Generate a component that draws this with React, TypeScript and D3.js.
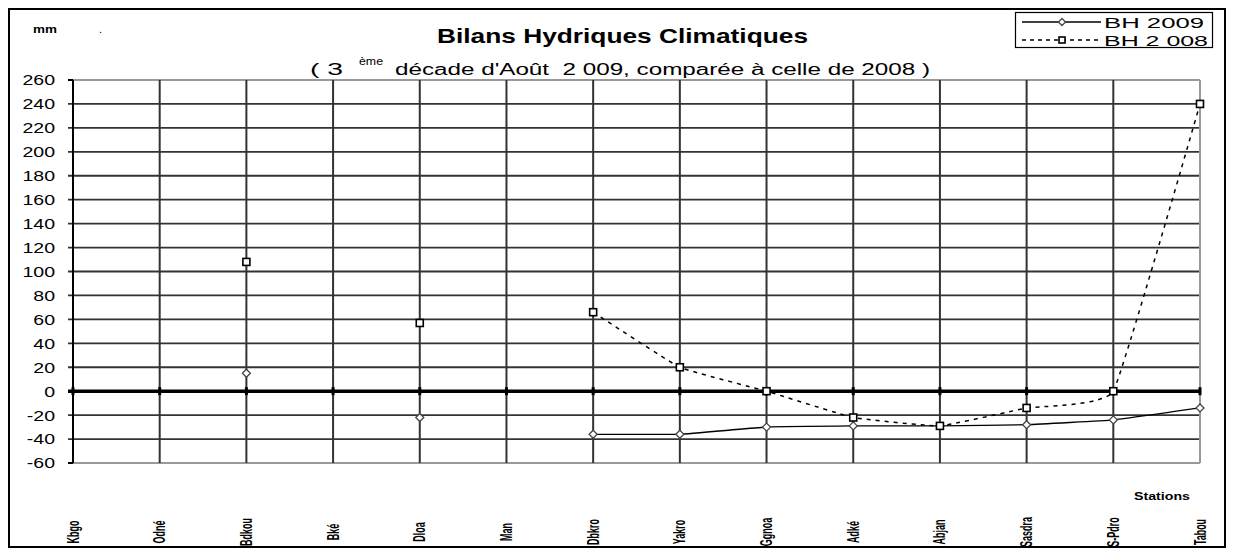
import React from "react";
import * as d3 from "d3";

const stations = ["Kbgo", "Odné", "Bdkou", "Bké", "Dloa", "Man", "Dbkro", "Yakro", "Ggnoa", "Adké", "Abjan", "Sasdra", "S-Pdro", "Tabou"];
const bh2009: (number | null)[] = [null, null, 15, null, -22, null, -36, -36, -30, -29, -29, -28, -24, -14];
const bh2008: (number | null)[] = [null, null, 108, null, 57, null, 66, 20, 0, -22, -29, -14, 0, 240];
const yTicks = [-60, -40, -20, 0, 20, 40, 60, 80, 100, 120, 140, 160, 180, 200, 220, 240, 260];

const W = 1233;
const H = 555;
const font = "'Liberation Sans', Arial, sans-serif";

function Diamond({ x, y, s = 4 }: { x: number; y: number; s?: number }) {
  return (
    <path
      d={`M${x},${y - s}L${x + s},${y}L${x},${y + s}L${x - s},${y}Z`}
      fill="#fff"
      stroke="#444"
      strokeWidth={1.3}
    />
  );
}

function Square({ x, y, s = 3.5 }: { x: number; y: number; s?: number }) {
  return <rect x={x - s} y={y - s} width={s * 2} height={s * 2} fill="#fff" stroke="#000" strokeWidth={1.6} />;
}

export default function App() {
  const x = d3.scalePoint<string>().domain(stations).range([73, 1200]);
  const y = d3.scaleLinear().domain([-60, 260]).range([463, 80]);

  const line = d3
    .line<number | null>()
    .defined((d) => d != null)
    .x((_, i) => x(stations[i])!)
    .y((d) => y(d as number))
    .curve(d3.curveCardinal.tension(0.7));

  const path2009 = line(bh2009) || "";
  const path2008 = line(bh2008) || "";

  const [x0, x1] = x.range();
  const [yb, yt] = y.range();

  return (
    <div style={{ position: "fixed", left: 0, top: 0 }}>
      <svg width={W} height={H} style={{ display: "block", background: "#fff" }} fontFamily={font}>
        <rect x={9} y={9} width={1216} height={538} fill="#fff" stroke="#000" strokeWidth={2} />

        <text x={33} y={33} fontSize={10} fontWeight="bold" textLength={24} lengthAdjust="spacingAndGlyphs">mm</text>
        <text x={99} y={33} fontSize={11}>.</text>

        <text x={437} y={43} fontSize={20} fontWeight="bold" textLength={371} lengthAdjust="spacingAndGlyphs">
          Bilans Hydriques Climatiques
        </text>
        <text x={310} y={75} fontSize={16} textLength={33} lengthAdjust="spacingAndGlyphs">( 3</text>
        <text x={359} y={65} fontSize={10} textLength={24} lengthAdjust="spacingAndGlyphs">ème</text>
        <text x={395} y={75} fontSize={16} textLength={535} lengthAdjust="spacingAndGlyphs">
          {"décade d'Août\u00a0 2 009, comparée à celle de 2008 )"}
        </text>

        {/* legend */}
        <rect x={1015.5} y={12.5} width={197} height={35} fill="#fff" stroke="#000" strokeWidth={1.2} />
        <line x1={1022} x2={1101} y1={22} y2={22} stroke="#000" strokeWidth={1.3} />
        <Diamond x={1062} y={22} s={3.5} />
        <text x={1104} y={27.5} fontSize={15} textLength={100} lengthAdjust="spacingAndGlyphs">BH 2009</text>
        <line x1={1022} x2={1101} y1={40} y2={40} stroke="#000" strokeWidth={1.3} strokeDasharray="4,4" />
        <Square x={1062} y={40} s={3} />
        <text x={1104} y={45.5} fontSize={15} textLength={104} lengthAdjust="spacingAndGlyphs">BH 2 008</text>

        {/* horizontal grid */}
        {yTicks.map((t) => (
          <g key={t}>
            <line
              x1={x0 - 5}
              x2={x1}
              y1={y(t)}
              y2={y(t)}
              stroke={t === 260 || t === -60 ? "#999" : t === 0 ? "#000" : "#333"}
              strokeWidth={t === 0 ? 3.5 : t === 260 || t === -60 ? 2 : 1.8}
            />
            <text
              transform={`translate(55,${y(t)}) scale(1.3,1)`}
              dy="0.36em"
              fontSize={15}
              textAnchor="end"
            >
              {t}
            </text>
          </g>
        ))}
        <line x1={x0 - 5} x2={x0} y1={yt} y2={yt} stroke="#000" strokeWidth={2} />
        <line x1={x0 - 5} x2={x0} y1={yb} y2={yb} stroke="#000" strokeWidth={2} />

        {/* vertical grid */}
        {stations.map((s, i) => (
          <g key={s}>
            <line
              x1={x(s)}
              x2={x(s)}
              y1={yt}
              y2={yb}
              stroke={i === stations.length - 1 ? "#999" : i === 0 ? "#000" : "#333"}
              strokeWidth={2}
            />
            <line x1={x(s)} x2={x(s)} y1={y(0) - 4} y2={y(0) + 4} stroke="#000" strokeWidth={3} />
            <text
              transform={`translate(${x(s)! + 5.5},532) rotate(-90) scale(0.56,1)`}
              fontSize={16}
              fontWeight="bold"
              textAnchor="middle"
            >
              {s}
            </text>
          </g>
        ))}

        <text x={1134} y={500} fontSize={11} fontWeight="bold" textLength={56} lengthAdjust="spacingAndGlyphs">Stations</text>

        {/* series */}
        <path d={path2008} fill="none" stroke="#000" strokeWidth={1.5} strokeDasharray="4,5" />
        <path d={path2009} fill="none" stroke="#000" strokeWidth={1.3} />

        {bh2009.map((v, i) => (v == null ? null : <Diamond key={"a" + i} x={x(stations[i])!} y={y(v)} />))}
        {bh2008.map((v, i) => (v == null ? null : <Square key={"b" + i} x={x(stations[i])!} y={y(v)} />))}
      </svg>
    </div>
  );
}
